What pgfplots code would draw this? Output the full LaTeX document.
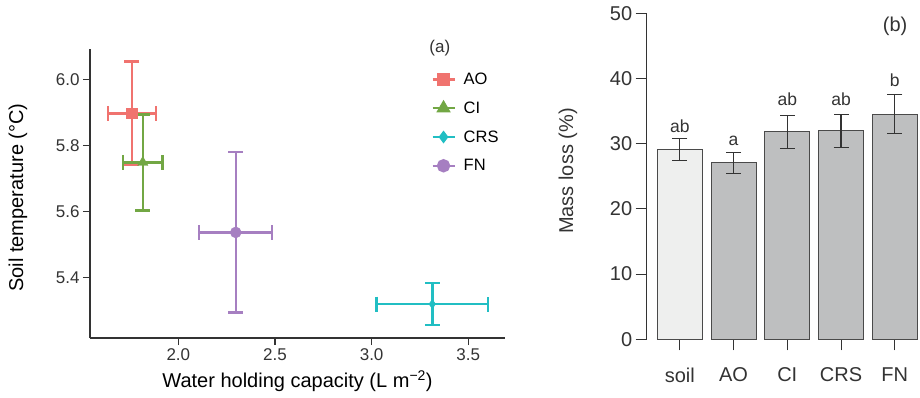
\documentclass[border=0pt]{standalone}
\usepackage{pgfplots}
\pgfplotsset{compat=1.18}
\usepackage{fontspec}
\setmainfont{Liberation Sans}
\definecolor{aoc}{HTML}{F0736F}
\definecolor{cic}{HTML}{72A744}
\definecolor{crsc}{HTML}{21BEC3}
\definecolor{fnc}{HTML}{A67FC1}
\definecolor{axgray}{HTML}{333333}
\definecolor{txtgray}{HTML}{333333}
\definecolor{barlight}{HTML}{EEEFEE}
\definecolor{bargray}{HTML}{BEBFC0}
\definecolor{baredge}{HTML}{4A4A4A}
\pgfdeclareplotmark{capthick}{%
  \pgfsetlinewidth{2.4pt}\pgfsetbuttcap
  \pgfpathmoveto{\pgfqpoint{-\pgfplotmarksize}{0pt}}%
  \pgfpathlineto{\pgfqpoint{\pgfplotmarksize}{0pt}}%
  \pgfusepathqstroke}
\pgfdeclareplotmark{capthin}{%
  \pgfsetlinewidth{1.1pt}\pgfsetbuttcap
  \pgfpathmoveto{\pgfqpoint{-\pgfplotmarksize}{0pt}}%
  \pgfpathlineto{\pgfqpoint{\pgfplotmarksize}{0pt}}%
  \pgfusepathqstroke}
\pgfplotstableread{
x y ex ey
1.759 5.897 0.124 0.157
}\tAO
\pgfplotstableread{
x y ex ey
1.816 5.748 0.103 0.145
}\tCI
\pgfplotstableread{
x y ex ey
3.314 5.319 0.289 0.063
}\tCRS
\pgfplotstableread{
x y ex ey
2.297 5.536 0.189 0.243
}\tFN
\pgfplotstableread{
x y e
1 29.14 1.70
}\tSoil
\pgfplotstableread{
x y e
2 27.09 1.60
3 31.84 2.55
4 31.95 2.50
5 34.50 3.00
}\tBars
\pgfplotsset{
  errstyle/.style={error bars/.cd, x dir=both, y dir=both, x explicit, y explicit,
    error bar style={line width=2.4pt, color=#1},
    error mark=capthick,
    error mark options={rotate=90, mark size=7.5pt, color=#1}},
}
\begin{document}
\begin{tikzpicture}[x=1pt,y=1pt]
\useasboundingbox (0,0) rectangle (920,397);
% ---------------- panel (a)
\begin{axis}[
  at={(90pt,59pt)}, anchor=south west,
  width=415pt, height=289pt, scale only axis,
  xmin=1.543, xmax=3.69, ymin=5.216, ymax=6.092,
  axis lines=left, axis line style={-, draw=axgray, line width=1.2pt},
  xtick={2,2.5,3,3.5}, xticklabels={2.0,2.5,3.0,3.5},
  ytick={5.4,5.6,5.8,6.0}, yticklabels={5.4,5.6,5.8,6.0},
  tick align=outside, major tick length=7pt,
  tick style={draw=axgray, line width=1.2pt},
  tick label style={font=\fontsize{17}{17}\selectfont, text=txtgray},
  xlabel={Water holding capacity (L m\textsuperscript{−2})},
  ylabel={Soil temperature (°C)},
  label style={font=\fontsize{20}{20}\selectfont, text=black},
  xlabel style={at={(axis description cs:0.5,-0.149)}, anchor=center},
  ylabel style={at={(axis description cs:-0.1735,0.486)}, anchor=center, rotate=0},
  legend style={at={(0.822,0.925)}, anchor=north west, draw=none, fill=none,
    font=\fontsize{16.5}{16.5}\selectfont, row sep=11.8pt, inner sep=0pt,
    nodes={inner xsep=8pt}},
  legend cell align=left,
  legend image code/.code={\draw[#1, mark repeat=2, mark phase=2] plot coordinates {(0pt,0pt) (11pt,0pt) (22pt,0pt)};},
  clip=false,
]
\addlegendimage{color=aoc, line width=2.4pt, mark=square*, mark size=5.3pt}
\addlegendentry{AO}
\addlegendimage{color=cic, line width=2.4pt, mark=triangle*, mark size=6pt}
\addlegendentry{CI}
\addlegendimage{color=crsc, line width=2.4pt, mark=diamond*, mark size=4.5pt}
\addlegendentry{CRS}
\addlegendimage{color=fnc, line width=2.4pt, mark=*, mark size=5.5pt}
\addlegendentry{FN}
\addplot[forget plot, only marks, color=aoc, mark=square*, mark size=5.3pt, errstyle=aoc]
  table[x=x, y=y, x error=ex, y error=ey] {\tAO};
\addplot[forget plot, only marks, color=cic, mark=triangle*, mark size=6pt, errstyle=cic]
  table[x=x, y=y, x error=ex, y error=ey] {\tCI};
\addplot[forget plot, only marks, color=crsc, mark=diamond*, mark size=4.5pt, errstyle=crsc]
  table[x=x, y=y, x error=ex, y error=ey] {\tCRS};
\addplot[forget plot, only marks, color=fnc, mark=*, mark size=5.5pt, errstyle=fnc]
  table[x=x, y=y, x error=ex, y error=ey] {\tFN};
\node[font=\fontsize{17}{17}\selectfont, text=txtgray] at (rel axis cs:0.843,1.003) {(a)};
\end{axis}
% ---------------- panel (b)
\begin{axis}[
  at={(646.7pt,57.7pt)}, anchor=south west,
  width=273.3pt, height=326pt, scale only axis,
  xmin=0.384, xmax=5.47, ymin=0, ymax=50,
  axis lines=left, axis line style={-},
  x axis line style={draw=none},
  y axis line style={draw=axgray, line width=1pt},
  xtick={1,2,3,4,5}, xticklabels={soil,AO,CI,CRS,FN},
  ytick={0,10,20,30,40,50},
  tick align=outside, major tick length=11pt,
  tick style={draw=axgray, line width=1pt},
  tick label style={font=\fontsize{20}{20}\selectfont, text=txtgray},
  xticklabel style={yshift=-14pt},
  /pgf/number format/assume math mode=true,
  ylabel={Mass loss (\%)},
  label style={font=\fontsize{20}{20}\selectfont, text=txtgray},
  ylabel style={at={(axis description cs:-0.288,0.516)}, anchor=center},
  clip=false,
]
\addplot[ybar, bar width=45pt, bar shift=0pt, fill=barlight, draw=baredge, line width=1pt,
  error bars/.cd, y dir=both, y explicit,
  error bar style={line width=1.1pt, color=axgray},
  error mark=capthin,
  error mark options={rotate=90, mark size=7.5pt, color=axgray}]
  table[x=x, y=y, y error=e] {\tSoil};
\addplot[ybar, bar width=45pt, bar shift=0pt, fill=bargray, draw=baredge, line width=1pt,
  error bars/.cd, y dir=both, y explicit,
  error bar style={line width=1.1pt, color=axgray},
  error mark=capthin,
  error mark options={rotate=90, mark size=7.5pt, color=axgray}]
  table[x=x, y=y, y error=e] {\tBars};
\begin{scope}[every node/.style={font=\fontsize{17.5}{17.5}\selectfont, text=txtgray, anchor=center}]
\node at (axis cs:1,32.7) {ab};
\node at (axis cs:2,30.4) {a};
\node at (axis cs:3,36.8) {ab};
\node at (axis cs:4,36.8) {ab};
\node at (axis cs:5,39.8) {b};
\end{scope}
\node[font=\fontsize{20}{20}\selectfont, text=txtgray] at (axis cs:5.008,48) {(b)};
\end{axis}
\end{tikzpicture}
\end{document}
